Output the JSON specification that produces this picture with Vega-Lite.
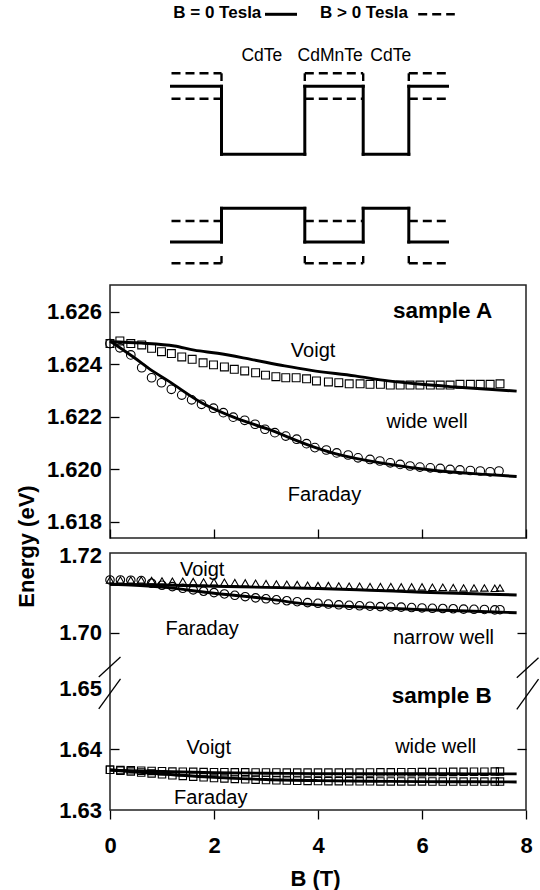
{
  "$schema": "https://vega.github.io/schema/vega-lite/v6.json",
  "padding": {"left": 14, "top": 0, "right": 0, "bottom": 0},
  "bounds": "flush",
  "spacing": 15,
  "resolve": {"scale": {"x": "independent", "y": "independent"}},
  "config": {
    "font": "Liberation Sans",
    "axis": {"tickColor": "black", "labelColor": "black", "titleColor": "black", "grid": false, "domain": false, "tickWidth": 1.3},
    "view": {"stroke": "#222", "strokeWidth": 1.5}
  },
  "datasets": {
    "schematic": [
      {"line": "B = 0", "pos": 61.5, "level": 183.7, "pos2": 111.5, "level2": 183.7},
      {"line": "B = 0", "pos": 111.5, "level": 183.7, "pos2": 111.5, "level2": 115.7},
      {"line": "B = 0", "pos": 111.5, "level": 115.7, "pos2": 194.8, "level2": 115.7},
      {"line": "B = 0", "pos": 194.8, "level": 115.7, "pos2": 194.8, "level2": 183.7},
      {"line": "B = 0", "pos": 194.8, "level": 183.7, "pos2": 253.2, "level2": 183.7},
      {"line": "B = 0", "pos": 253.2, "level": 183.7, "pos2": 253.2, "level2": 115.7},
      {"line": "B = 0", "pos": 253.2, "level": 115.7, "pos2": 298.8, "level2": 115.7},
      {"line": "B = 0", "pos": 298.8, "level": 115.7, "pos2": 298.8, "level2": 183.7},
      {"line": "B = 0", "pos": 298.8, "level": 183.7, "pos2": 337.5, "level2": 183.7},
      {"line": "B = 0", "pos": 61.5, "level": 28, "pos2": 111.5, "level2": 28},
      {"line": "B = 0", "pos": 111.5, "level": 28, "pos2": 111.5, "level2": 61.7},
      {"line": "B = 0", "pos": 111.5, "level": 61.7, "pos2": 194.8, "level2": 61.7},
      {"line": "B = 0", "pos": 194.8, "level": 61.7, "pos2": 194.8, "level2": 28},
      {"line": "B = 0", "pos": 194.8, "level": 28, "pos2": 253.2, "level2": 28},
      {"line": "B = 0", "pos": 253.2, "level": 28, "pos2": 253.2, "level2": 61.7},
      {"line": "B = 0", "pos": 253.2, "level": 61.7, "pos2": 298.8, "level2": 61.7},
      {"line": "B = 0", "pos": 298.8, "level": 61.7, "pos2": 298.8, "level2": 28},
      {"line": "B = 0", "pos": 298.8, "level": 28, "pos2": 337.5, "level2": 28},
      {"line": "B = 0", "pos": 156.5, "level": 255.7, "pos2": 185.5, "level2": 255.7},
      {"line": "B > 0", "pos": 61.5, "level": 196.7, "pos2": 111.5, "level2": 196.7},
      {"line": "B > 0", "pos": 111.5, "level": 196.7, "pos2": 111.5, "level2": 189},
      {"line": "B > 0", "pos": 194.8, "level": 196.7, "pos2": 253.2, "level2": 196.7},
      {"line": "B > 0", "pos": 194.8, "level": 196.7, "pos2": 194.8, "level2": 189},
      {"line": "B > 0", "pos": 253.2, "level": 196.7, "pos2": 253.2, "level2": 189},
      {"line": "B > 0", "pos": 298.8, "level": 196.7, "pos2": 337.5, "level2": 196.7},
      {"line": "B > 0", "pos": 298.8, "level": 196.7, "pos2": 298.8, "level2": 189},
      {"line": "B > 0", "pos": 61.5, "level": 171.3, "pos2": 111.5, "level2": 171.3},
      {"line": "B > 0", "pos": 194.8, "level": 171.3, "pos2": 253.2, "level2": 171.3},
      {"line": "B > 0", "pos": 298.8, "level": 171.3, "pos2": 337.5, "level2": 171.3},
      {"line": "B > 0", "pos": 61.5, "level": 49, "pos2": 111.5, "level2": 49},
      {"line": "B > 0", "pos": 194.8, "level": 49, "pos2": 253.2, "level2": 49},
      {"line": "B > 0", "pos": 298.8, "level": 49, "pos2": 337.5, "level2": 49},
      {"line": "B > 0", "pos": 61.5, "level": 6.7, "pos2": 111.5, "level2": 6.7},
      {"line": "B > 0", "pos": 111.5, "level": 6.7, "pos2": 111.5, "level2": 14},
      {"line": "B > 0", "pos": 194.8, "level": 6.7, "pos2": 253.2, "level2": 6.7},
      {"line": "B > 0", "pos": 194.8, "level": 6.7, "pos2": 194.8, "level2": 14},
      {"line": "B > 0", "pos": 253.2, "level": 6.7, "pos2": 253.2, "level2": 14},
      {"line": "B > 0", "pos": 298.8, "level": 6.7, "pos2": 337.5, "level2": 6.7},
      {"line": "B > 0", "pos": 298.8, "level": 6.7, "pos2": 298.8, "level2": 14},
      {"line": "B > 0", "pos": 308.2, "level": 255.7, "pos2": 344.8, "level2": 255.7}
    ],
    "schematic_text": [
      {"kind": "legend", "pos": 107.3, "level": 251.7, "text": "B = 0 Tesla"},
      {"kind": "legend", "pos": 254, "level": 251.7, "text": "B > 0 Tesla"},
      {"kind": "layer", "pos": 151.8, "level": 209, "text": "CdTe"},
      {"kind": "layer", "pos": 220.2, "level": 209, "text": "CdMnTe"},
      {"kind": "layer", "pos": 280.7, "level": 209, "text": "CdTe"}
    ],
    "A_voigt": [
      {"B": 0, "E": 1.62478}, {"B": 0.19, "E": 1.62488}, {"B": 0.4, "E": 1.62478}, {"B": 0.61, "E": 1.62473},
      {"B": 0.8, "E": 1.6246}, {"B": 0.99, "E": 1.62447}, {"B": 1.18, "E": 1.6244}, {"B": 1.38, "E": 1.62427},
      {"B": 1.58, "E": 1.62418}, {"B": 1.79, "E": 1.62405}, {"B": 1.99, "E": 1.62397}, {"B": 2.2, "E": 1.62389},
      {"B": 2.39, "E": 1.6238}, {"B": 2.59, "E": 1.62374}, {"B": 2.8, "E": 1.62367}, {"B": 2.99, "E": 1.62358},
      {"B": 3.19, "E": 1.62352}, {"B": 3.38, "E": 1.62348}, {"B": 3.58, "E": 1.62348}, {"B": 3.78, "E": 1.62344},
      {"B": 3.97, "E": 1.62336}, {"B": 4.2, "E": 1.62332}, {"B": 4.4, "E": 1.62329}, {"B": 4.6, "E": 1.62325},
      {"B": 4.81, "E": 1.62325}, {"B": 5.0, "E": 1.62323}, {"B": 5.2, "E": 1.62323}, {"B": 5.39, "E": 1.6232},
      {"B": 5.58, "E": 1.6232}, {"B": 5.77, "E": 1.6232}, {"B": 5.96, "E": 1.6232}, {"B": 6.16, "E": 1.6232},
      {"B": 6.35, "E": 1.6232}, {"B": 6.54, "E": 1.6232}, {"B": 6.73, "E": 1.62323}, {"B": 6.93, "E": 1.62323},
      {"B": 7.12, "E": 1.62323}, {"B": 7.31, "E": 1.62323}, {"B": 7.5, "E": 1.62325}
    ],
    "A_faraday": [
      {"B": 0, "E": 1.62478}, {"B": 0.19, "E": 1.62462}, {"B": 0.4, "E": 1.62435}, {"B": 0.61, "E": 1.62386},
      {"B": 0.8, "E": 1.62348}, {"B": 0.99, "E": 1.62329}, {"B": 1.18, "E": 1.62304}, {"B": 1.38, "E": 1.62282},
      {"B": 1.57, "E": 1.62264}, {"B": 1.76, "E": 1.62247}, {"B": 1.99, "E": 1.62232}, {"B": 2.18, "E": 1.62215},
      {"B": 2.37, "E": 1.62198}, {"B": 2.59, "E": 1.62186}, {"B": 2.79, "E": 1.62171}, {"B": 2.98, "E": 1.62152},
      {"B": 3.17, "E": 1.62139}, {"B": 3.38, "E": 1.62126}, {"B": 3.59, "E": 1.62114}, {"B": 3.78, "E": 1.62097},
      {"B": 3.94, "E": 1.62082}, {"B": 4.16, "E": 1.62073}, {"B": 4.36, "E": 1.62062}, {"B": 4.58, "E": 1.62054},
      {"B": 4.77, "E": 1.62043}, {"B": 5.0, "E": 1.62037}, {"B": 5.19, "E": 1.62031}, {"B": 5.39, "E": 1.62024},
      {"B": 5.58, "E": 1.62018}, {"B": 5.77, "E": 1.62012}, {"B": 5.96, "E": 1.62008}, {"B": 6.16, "E": 1.62005},
      {"B": 6.35, "E": 1.62003}, {"B": 6.54, "E": 1.61999}, {"B": 6.73, "E": 1.61997}, {"B": 6.93, "E": 1.61995},
      {"B": 7.12, "E": 1.61993}, {"B": 7.31, "E": 1.6199}, {"B": 7.48, "E": 1.61993}
    ],
    "A_fits": [
      {"curve": "Voigt", "B": 0, "E": 1.62485}, {"curve": "Voigt", "B": 0.6, "E": 1.6248}, {"curve": "Voigt", "B": 1.24, "E": 1.62469},
      {"curve": "Voigt", "B": 1.62, "E": 1.62453}, {"curve": "Voigt", "B": 2.07, "E": 1.62441}, {"curve": "Voigt", "B": 2.71, "E": 1.62418},
      {"curve": "Voigt", "B": 3.36, "E": 1.62393}, {"curve": "Voigt", "B": 3.87, "E": 1.62376}, {"curve": "Voigt", "B": 4.71, "E": 1.62355},
      {"curve": "Voigt", "B": 5.35, "E": 1.62336}, {"curve": "Voigt", "B": 5.99, "E": 1.62323}, {"curve": "Voigt", "B": 6.63, "E": 1.62313},
      {"curve": "Voigt", "B": 7.28, "E": 1.62304}, {"curve": "Voigt", "B": 7.82, "E": 1.62297},
      {"curve": "Faraday", "B": 0, "E": 1.62488}, {"curve": "Faraday", "B": 0.47, "E": 1.62424}, {"curve": "Faraday", "B": 0.8, "E": 1.62376},
      {"curve": "Faraday", "B": 1.12, "E": 1.62336}, {"curve": "Faraday", "B": 1.76, "E": 1.62253}, {"curve": "Faraday", "B": 2.4, "E": 1.62196},
      {"curve": "Faraday", "B": 3.04, "E": 1.62152}, {"curve": "Faraday", "B": 3.87, "E": 1.62088}, {"curve": "Faraday", "B": 4.33, "E": 1.62059},
      {"curve": "Faraday", "B": 5.29, "E": 1.62021}, {"curve": "Faraday", "B": 6.25, "E": 1.61995}, {"curve": "Faraday", "B": 7.22, "E": 1.6198},
      {"curve": "Faraday", "B": 7.82, "E": 1.61972}
    ],
    "A_labels": [
      {"kind": "sample", "B": 6.395, "E": 1.62574, "text": "sample A"},
      {"kind": "note", "B": 3.905, "E": 1.62427, "text": "Voigt"},
      {"kind": "note", "B": 6.099, "E": 1.62158, "text": "wide well"},
      {"kind": "note", "B": 4.126, "E": 1.61878, "text": "Faraday"}
    ],
    "narrow_voigt": [
      {"B": 0, "E": 1.71366}, {"B": 0.2, "E": 1.71366}, {"B": 0.4, "E": 1.71366}, {"B": 0.6, "E": 1.71366},
      {"B": 0.8, "E": 1.71349}, {"B": 1.0, "E": 1.7134}, {"B": 1.2, "E": 1.71332}, {"B": 1.4, "E": 1.71332},
      {"B": 1.6, "E": 1.71323}, {"B": 1.8, "E": 1.71314}, {"B": 2.0, "E": 1.71314}, {"B": 2.2, "E": 1.71306},
      {"B": 2.4, "E": 1.71297}, {"B": 2.6, "E": 1.71289}, {"B": 2.8, "E": 1.71281}, {"B": 3.0, "E": 1.71271},
      {"B": 3.2, "E": 1.71263}, {"B": 3.4, "E": 1.71255}, {"B": 3.6, "E": 1.71246}, {"B": 3.8, "E": 1.71229},
      {"B": 4.0, "E": 1.7122}, {"B": 4.2, "E": 1.7122}, {"B": 4.4, "E": 1.71211}, {"B": 4.6, "E": 1.71203},
      {"B": 4.8, "E": 1.71203}, {"B": 5.0, "E": 1.71194}, {"B": 5.2, "E": 1.71194}, {"B": 5.4, "E": 1.71194},
      {"B": 5.6, "E": 1.71186}, {"B": 5.8, "E": 1.71186}, {"B": 6.0, "E": 1.71186}, {"B": 6.2, "E": 1.71177},
      {"B": 6.4, "E": 1.71177}, {"B": 6.6, "E": 1.71168}, {"B": 6.8, "E": 1.7116}, {"B": 7.0, "E": 1.7116},
      {"B": 7.2, "E": 1.7116}, {"B": 7.4, "E": 1.71151}, {"B": 7.5, "E": 1.7116}
    ],
    "narrow_faraday": [
      {"B": 0, "E": 1.71366}, {"B": 0.2, "E": 1.71366}, {"B": 0.4, "E": 1.7136}, {"B": 0.6, "E": 1.7135},
      {"B": 0.8, "E": 1.71281}, {"B": 1.0, "E": 1.71229}, {"B": 1.2, "E": 1.71194}, {"B": 1.4, "E": 1.7115},
      {"B": 1.6, "E": 1.7111}, {"B": 1.8, "E": 1.71075}, {"B": 2.0, "E": 1.7104}, {"B": 2.2, "E": 1.71005},
      {"B": 2.4, "E": 1.7097}, {"B": 2.6, "E": 1.70935}, {"B": 2.8, "E": 1.70905}, {"B": 3.0, "E": 1.7088},
      {"B": 3.2, "E": 1.70855}, {"B": 3.4, "E": 1.7083}, {"B": 3.6, "E": 1.70805}, {"B": 3.8, "E": 1.70782},
      {"B": 4.0, "E": 1.70765}, {"B": 4.2, "E": 1.70745}, {"B": 4.4, "E": 1.70725}, {"B": 4.6, "E": 1.70713},
      {"B": 4.8, "E": 1.707}, {"B": 5.0, "E": 1.7069}, {"B": 5.2, "E": 1.70679}, {"B": 5.4, "E": 1.7067},
      {"B": 5.6, "E": 1.70665}, {"B": 5.8, "E": 1.70655}, {"B": 6.0, "E": 1.70645}, {"B": 6.2, "E": 1.70636},
      {"B": 6.4, "E": 1.7063}, {"B": 6.6, "E": 1.70624}, {"B": 6.8, "E": 1.70615}, {"B": 7.0, "E": 1.7061},
      {"B": 7.2, "E": 1.70605}, {"B": 7.4, "E": 1.70595}, {"B": 7.5, "E": 1.706}
    ],
    "wide_voigt": [
      {"B": 0, "E": 1.6366}, {"B": 0.2, "E": 1.63655}, {"B": 0.4, "E": 1.6365}, {"B": 0.6, "E": 1.63645},
      {"B": 0.8, "E": 1.6364}, {"B": 1.0, "E": 1.63635}, {"B": 1.2, "E": 1.6363}, {"B": 1.4, "E": 1.63628},
      {"B": 1.6, "E": 1.63625}, {"B": 1.8, "E": 1.63622}, {"B": 2.0, "E": 1.6362}, {"B": 2.2, "E": 1.63619},
      {"B": 2.4, "E": 1.63618}, {"B": 2.6, "E": 1.63617}, {"B": 2.8, "E": 1.63616}, {"B": 3.0, "E": 1.63615},
      {"B": 3.2, "E": 1.63615}, {"B": 3.4, "E": 1.63614}, {"B": 3.6, "E": 1.63614}, {"B": 3.8, "E": 1.63613},
      {"B": 4.0, "E": 1.63613}, {"B": 4.2, "E": 1.63613}, {"B": 4.4, "E": 1.63613}, {"B": 4.6, "E": 1.63614},
      {"B": 4.8, "E": 1.63614}, {"B": 5.0, "E": 1.63615}, {"B": 5.2, "E": 1.63617}, {"B": 5.4, "E": 1.63618},
      {"B": 5.6, "E": 1.63619}, {"B": 5.8, "E": 1.6362}, {"B": 6.0, "E": 1.63621}, {"B": 6.2, "E": 1.63622},
      {"B": 6.4, "E": 1.63624}, {"B": 6.6, "E": 1.63625}, {"B": 6.8, "E": 1.63626}, {"B": 7.0, "E": 1.63627},
      {"B": 7.2, "E": 1.63628}, {"B": 7.4, "E": 1.6363}, {"B": 7.5, "E": 1.6363}
    ],
    "wide_faraday": [
      {"B": 0, "E": 1.6366}, {"B": 0.2, "E": 1.63645}, {"B": 0.4, "E": 1.6363}, {"B": 0.6, "E": 1.63615},
      {"B": 0.8, "E": 1.636}, {"B": 1.0, "E": 1.63585}, {"B": 1.2, "E": 1.6357}, {"B": 1.4, "E": 1.63558},
      {"B": 1.6, "E": 1.63546}, {"B": 1.8, "E": 1.63535}, {"B": 2.0, "E": 1.63525}, {"B": 2.2, "E": 1.63517},
      {"B": 2.4, "E": 1.6351}, {"B": 2.6, "E": 1.63503}, {"B": 2.8, "E": 1.63497}, {"B": 3.0, "E": 1.63492},
      {"B": 3.2, "E": 1.63487}, {"B": 3.4, "E": 1.63483}, {"B": 3.6, "E": 1.6348}, {"B": 3.8, "E": 1.63477},
      {"B": 4.0, "E": 1.63474}, {"B": 4.2, "E": 1.63473}, {"B": 4.4, "E": 1.63472}, {"B": 4.6, "E": 1.63471},
      {"B": 4.8, "E": 1.6347}, {"B": 5.0, "E": 1.6347}, {"B": 5.2, "E": 1.63469}, {"B": 5.4, "E": 1.63469},
      {"B": 5.6, "E": 1.63468}, {"B": 5.8, "E": 1.63468}, {"B": 6.0, "E": 1.63468}, {"B": 6.2, "E": 1.63467},
      {"B": 6.4, "E": 1.63467}, {"B": 6.6, "E": 1.63467}, {"B": 6.8, "E": 1.63466}, {"B": 7.0, "E": 1.63466},
      {"B": 7.2, "E": 1.63466}, {"B": 7.4, "E": 1.63466}, {"B": 7.5, "E": 1.63466}
    ],
    "B_fits": [
      {"curve": "narrow Voigt", "B": 0, "E": 1.71255}, {"curve": "narrow Voigt", "B": 1, "E": 1.71235}, {"curve": "narrow Voigt", "B": 2, "E": 1.71205},
      {"curve": "narrow Voigt", "B": 3, "E": 1.71175}, {"curve": "narrow Voigt", "B": 4, "E": 1.71145}, {"curve": "narrow Voigt", "B": 5, "E": 1.711},
      {"curve": "narrow Voigt", "B": 6, "E": 1.7105}, {"curve": "narrow Voigt", "B": 7, "E": 1.7101}, {"curve": "narrow Voigt", "B": 7.82, "E": 1.70979},
      {"curve": "narrow Faraday", "B": 0, "E": 1.71255}, {"curve": "narrow Faraday", "B": 0.5, "E": 1.7123}, {"curve": "narrow Faraday", "B": 1, "E": 1.7118},
      {"curve": "narrow Faraday", "B": 2, "E": 1.71022}, {"curve": "narrow Faraday", "B": 3, "E": 1.70885}, {"curve": "narrow Faraday", "B": 3.7, "E": 1.70756},
      {"curve": "narrow Faraday", "B": 5, "E": 1.7066}, {"curve": "narrow Faraday", "B": 6, "E": 1.706}, {"curve": "narrow Faraday", "B": 7, "E": 1.7056},
      {"curve": "narrow Faraday", "B": 7.82, "E": 1.7052},
      {"curve": "wide Voigt", "B": 0, "E": 1.63655}, {"curve": "wide Voigt", "B": 1, "E": 1.6363}, {"curve": "wide Voigt", "B": 2, "E": 1.63612},
      {"curve": "wide Voigt", "B": 3, "E": 1.63602}, {"curve": "wide Voigt", "B": 4, "E": 1.63597}, {"curve": "wide Voigt", "B": 5, "E": 1.63595},
      {"curve": "wide Voigt", "B": 6, "E": 1.63594}, {"curve": "wide Voigt", "B": 7, "E": 1.63593}, {"curve": "wide Voigt", "B": 7.82, "E": 1.63592},
      {"curve": "wide Faraday", "B": 0, "E": 1.63655}, {"curve": "wide Faraday", "B": 1, "E": 1.6359}, {"curve": "wide Faraday", "B": 2, "E": 1.63535},
      {"curve": "wide Faraday", "B": 3, "E": 1.635}, {"curve": "wide Faraday", "B": 4, "E": 1.63482}, {"curve": "wide Faraday", "B": 5, "E": 1.63472},
      {"curve": "wide Faraday", "B": 6, "E": 1.63466}, {"curve": "wide Faraday", "B": 7, "E": 1.63462}, {"curve": "wide Faraday", "B": 7.82, "E": 1.6346}
    ],
    "B_labels": [
      {"kind": "note", "B": 1.772, "E": 1.71467, "text": "Voigt"},
      {"kind": "note", "B": 1.772, "E": 1.69956, "text": "Faraday"},
      {"kind": "note", "B": 6.413, "E": 1.69709, "text": "narrow well"},
      {"kind": "sample", "B": 6.38, "E": 1.64746, "text": "sample B"},
      {"kind": "note", "B": 1.9, "E": 1.63911, "text": "Voigt"},
      {"kind": "note", "B": 6.264, "E": 1.63939, "text": "wide well"},
      {"kind": "note", "B": 1.938, "E": 1.63093, "text": "Faraday"}
    ],
    "breaks": [
      {"B": -0.216, "E": 1.68866, "B2": 0.202, "E2": 1.69381},
      {"B": -0.216, "E": 1.64656, "B2": 0.202, "E2": 1.65148},
      {"B": 7.823, "E": 1.68848, "B2": 8.241, "E2": 1.69363},
      {"B": 7.823, "E": 1.64648, "B2": 8.241, "E2": 1.65146}
    ]
  },
  "vconcat": [
    {
      "width": 416,
      "height": 269,
      "view": {"stroke": "transparent"},
      "encoding": {
        "x": {"field": "pos", "type": "quantitative", "scale": {"domain": [0, 416], "nice": false, "zero": false}, "axis": null},
        "y": {"field": "level", "type": "quantitative", "scale": {"domain": [0, 269], "nice": false, "zero": false}, "axis": null}
      },
      "layer": [
        {
          "data": {"name": "schematic"},
          "transform": [{"filter": "datum.line == 'B = 0'"}],
          "mark": {"type": "rule", "color": "black", "strokeWidth": 3, "strokeCap": "square"},
          "encoding": {"x2": {"field": "pos2"}, "y2": {"field": "level2"}}
        },
        {
          "data": {"name": "schematic"},
          "transform": [{"filter": "datum.line == 'B > 0'"}],
          "mark": {"type": "rule", "color": "black", "strokeWidth": 2.4, "strokeDash": [9, 5]},
          "encoding": {"x2": {"field": "pos2"}, "y2": {"field": "level2"}}
        },
        {
          "data": {"name": "schematic_text"},
          "transform": [{"filter": "datum.kind == 'legend'"}],
          "mark": {"type": "text", "fontSize": 17, "fontWeight": "bold", "color": "black", "align": "center", "baseline": "alphabetic"},
          "encoding": {"text": {"field": "text"}}
        },
        {
          "data": {"name": "schematic_text"},
          "transform": [{"filter": "datum.kind == 'layer'"}],
          "mark": {"type": "text", "fontSize": 17.5, "color": "black", "align": "center", "baseline": "alphabetic"},
          "encoding": {"text": {"field": "text"}}
        }
      ]
    },
    {
      "width": 416,
      "height": 253,
      "encoding": {
        "x": {"field": "B", "type": "quantitative", "scale": {"domain": [0, 8], "nice": false, "zero": false},
          "axis": {"values": [0, 2, 4, 6, 8], "labels": false, "tickSize": -9, "title": null}},
        "y": {"field": "E", "type": "quantitative", "scale": {"domain": [1.61738, 1.62701], "nice": false, "zero": false},
          "axis": {"values": [1.618, 1.62, 1.622, 1.624, 1.626], "format": ".3f", "tickSize": -9, "labelPadding": 17.5,
            "labelFontSize": 22, "labelFontWeight": "bold",
            "title": "Energy (eV)", "titleFontSize": 22, "titleFontWeight": "bold", "titleAngle": 270,
            "titleX": -83.5, "titleY": 261, "titleAlign": "center", "titleBaseline": "middle"}}
      },
      "layer": [
        {
          "data": {"name": "A_fits"},
          "mark": {"type": "line", "color": "black", "strokeWidth": 2.9, "interpolate": "monotone"},
          "encoding": {"detail": {"field": "curve"}}
        },
        {
          "data": {"name": "A_voigt"},
          "mark": {"type": "point", "shape": "square", "filled": false, "color": "black", "size": 62, "strokeWidth": 1.1, "opacity": 1}
        },
        {
          "data": {"name": "A_faraday"},
          "mark": {"type": "point", "shape": "circle", "filled": false, "color": "black", "size": 74, "strokeWidth": 1.1, "opacity": 1}
        },
        {
          "data": {"name": "A_labels"},
          "transform": [{"filter": "datum.kind == 'sample'"}],
          "mark": {"type": "text", "fontSize": 22.5, "fontWeight": "bold", "color": "black", "align": "center", "baseline": "alphabetic"},
          "encoding": {"text": {"field": "text"}}
        },
        {
          "data": {"name": "A_labels"},
          "transform": [{"filter": "datum.kind == 'note'"}],
          "mark": {"type": "text", "fontSize": 20, "color": "black", "align": "center", "baseline": "alphabetic"},
          "encoding": {"text": {"field": "text"}}
        }
      ]
    },
    {
      "width": 416,
      "height": 257,
      "resolve": {"axis": {"y": "independent"}},
      "encoding": {
        "x": {"field": "B", "type": "quantitative", "scale": {"domain": [0, 8], "nice": false, "zero": false},
          "axis": {"values": [0, 2, 4, 6, 8], "tickSize": 9, "labelPadding": 16, "labelFontSize": 22, "labelFontWeight": "bold",
            "labelFlush": false, "title": "B (T)", "titleFontSize": 22, "titleFontWeight": "bold",
            "titleX": 205, "titleY": 75, "titleAlign": "center", "titleBaseline": "alphabetic"}},
        "y": {"field": "E", "type": "quantitative",
          "scale": {"domain": [1.63, 1.65164, 1.6884, 1.7206], "range": [257, 125, 125, 0], "nice": false, "zero": false},
          "axis": null}
      },
      "layer": [
        {
          "data": {"name": "B_fits"},
          "mark": {"type": "line", "color": "black", "strokeWidth": 2.9, "interpolate": "monotone"},
          "encoding": {
            "detail": {"field": "curve"},
            "y": {"field": "E", "type": "quantitative",
              "axis": {"orient": "left", "values": [1.63, 1.64, 1.65, 1.7, 1.72], "format": ".2f", "tickSize": -9, "labelPadding": 17.5,
                "labelFontSize": 22, "labelFontWeight": "bold", "title": null,
                "tickOpacity": {"condition": {"test": "datum.value == 1.64 || datum.value == 1.7", "value": 1}, "value": 0}}}
          }
        },
        {
          "data": {"name": "narrow_voigt"},
          "mark": {"type": "point", "shape": "triangle-up", "filled": false, "color": "black", "size": 55, "strokeWidth": 1.1, "opacity": 1}
        },
        {
          "data": {"name": "narrow_faraday"},
          "mark": {"type": "point", "shape": "circle", "filled": false, "color": "black", "size": 72, "strokeWidth": 1.1, "opacity": 1}
        },
        {
          "data": {"name": "wide_voigt"},
          "mark": {"type": "point", "shape": "square", "filled": false, "color": "black", "size": 55, "strokeWidth": 1.1, "opacity": 1}
        },
        {
          "data": {"name": "wide_faraday"},
          "mark": {"type": "point", "shape": "square", "filled": false, "color": "black", "size": 55, "strokeWidth": 1.1, "opacity": 1}
        },
        {
          "data": {"name": "B_labels"},
          "transform": [{"filter": "datum.kind == 'sample'"}],
          "mark": {"type": "text", "fontSize": 22.5, "fontWeight": "bold", "color": "black", "align": "center", "baseline": "alphabetic"},
          "encoding": {"text": {"field": "text"}}
        },
        {
          "data": {"name": "B_labels"},
          "transform": [{"filter": "datum.kind == 'note'"}],
          "mark": {"type": "text", "fontSize": 20, "color": "black", "align": "center", "baseline": "alphabetic"},
          "encoding": {"text": {"field": "text"}}
        },
        {
          "data": {"name": "breaks"},
          "mark": {"type": "rule", "color": "black", "strokeWidth": 1.3},
          "encoding": {
            "x2": {"field": "B2"},
            "y2": {"field": "E2"},
            "y": {"field": "E", "type": "quantitative",
              "axis": {"orient": "right", "values": [1.64, 1.7], "labels": false, "tickSize": -9, "title": null}}
          }
        }
      ]
    }
  ]
}
